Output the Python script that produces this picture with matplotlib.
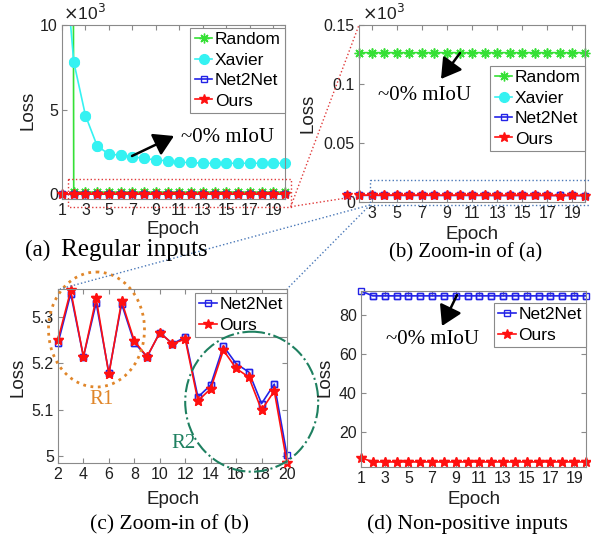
import matplotlib
matplotlib.use('Agg')
import matplotlib.pyplot as plt
from matplotlib.transforms import Affine2D
from matplotlib.patches import Ellipse, Rectangle, FancyArrowPatch
from matplotlib.lines import Line2D
from matplotlib.ticker import FuncFormatter
import numpy as np

plt.rcParams['font.family'] = ['Liberation Sans', 'DejaVu Sans']

# ---------------- data ----------------
epochs = [1, 2, 3, 4, 5, 6, 7, 8, 9, 10, 11, 12, 13, 14, 15, 16, 17, 18, 19, 20]
random_loss = [400000, 126.5, 126.5, 126.5, 126.5, 126.5, 126.5, 126.5, 126.5, 126.5,
               126.5, 126.5, 126.5, 126.5, 126.5, 126.5, 126.5, 126.5, 126.5, 126.5]
xavier_loss = [16000, 7830, 4650, 2850, 2370, 2310, 2210, 2120, 2020, 1980,
               1880, 1880, 1830, 1830, 1830, 1830, 1830, 1830, 1830, 1830]
net2net_loss = [5.60, 5.243, 5.350, 5.214, 5.330, 5.179, 5.328, 5.244, 5.214, 5.266,
                5.242, 5.256, 5.127, 5.153, 5.237, 5.199, 5.181, 5.113, 5.155, 5.002]
ours_loss = [5.60, 5.251, 5.357, 5.214, 5.340, 5.176, 5.334, 5.248, 5.214, 5.266,
             5.242, 5.252, 5.119, 5.145, 5.228, 5.189, 5.170, 5.099, 5.140, 4.985]
net2net_nonpos = [92.3, 89.8, 89.8, 89.8, 89.8, 89.8, 89.8, 89.8, 89.8, 89.8,
                  89.8, 89.8, 89.8, 89.8, 89.8, 89.8, 89.8, 89.8, 89.8, 89.8]
ours_nonpos = [6.8, 4.6, 4.6, 4.6, 4.6, 4.6, 4.6, 4.6, 4.6, 4.6,
               4.6, 4.6, 4.6, 4.6, 4.6, 4.6, 4.6, 4.6, 4.6, 4.6]

ticks_a = [1, 3, 5, 7, 9, 11, 13, 15, 17, 19]
ticks_b = [3, 5, 7, 9, 11, 13, 15, 17, 19]
ticks_c = [2, 4, 6, 8, 10, 12, 14, 16, 18, 20]
yt_a = [0, 5, 10]
yt_b = [0, 0.05, 0.1, 0.15]
yt_c = [5, 5.1, 5.2, 5.3]
yt_d = [20, 40, 60, 80]

C_RAND = '#35e035'
C_XAV = '#35f2f2'
C_N2N = '#2323e6'
C_OURS = '#ff1010'
SPINE = '#8a8a8a'

W, H = 591, 539
fig = plt.figure(figsize=(W / 100, H / 100), dpi=100)
T = Affine2D().scale(1 / W, -1 / H).translate(0, 1) + fig.transFigure


def ax_at(l, t, r, b):
    return fig.add_axes([l / W, 1 - b / H, (r - l) / W, (b - t) / H])


styles = {
    'Random': dict(color=C_RAND, marker=(8, 2, 0), ms=7, mew=1.0, mec=C_RAND, mfc=C_RAND),
    'Xavier': dict(color=C_XAV, marker='o', ms=7, mec=C_XAV, mfc=C_XAV),
    'Net2Net': dict(color=C_N2N, marker='s', ms=5, mew=1.0, mec=C_N2N, mfc='none'),
    'Ours': dict(color=C_OURS, marker='*', ms=7.5, mec=C_OURS, mfc=C_OURS),
}


def series(ax, x, y, name, ylim):
    st = styles[name]
    h, = ax.plot(x, y, lw=1.2, label=name, clip_on=True, **st)
    y = np.asarray(y, dtype=float)
    ym = np.where((y >= ylim[0] - 1e-9) & (y <= ylim[1] + 1e-9), y, np.nan)
    ax.plot(x, ym, ls='none', clip_on=False, **st)
    return h


def style_axes(ax):
    for s in ax.spines.values():
        s.set_color(SPINE)
        s.set_linewidth(0.8)
    ax.tick_params(direction='in', length=3.5, width=0.8, color=SPINE, labelcolor='#202020',
                   labelsize=11.5, top=True, right=True, pad=3)
    ax.yaxis.set_major_formatter(FuncFormatter(lambda v, p: '%g' % round(v, 4)))


def legend(ax, handles, x, y, fs=12.5):
    lg = ax.legend(handles=handles, loc='upper right', bbox_to_anchor=(x / W, 1 - y / H),
                   bbox_transform=fig.transFigure, borderaxespad=0, fontsize=fs,
                   handlelength=1.0, handletextpad=0.15, labelspacing=0.3, borderpad=0.25,
                   fancybox=False, framealpha=1, edgecolor=SPINE)
    lg.get_frame().set_linewidth(0.8)


def ftext(x, y, s, **kw):
    fig.text(x / W, 1 - y / H, s, **kw)


serif = ['Liberation Serif', 'DejaVu Serif']

# ---------------- (a) ----------------
ax = ax_at(62, 25, 285, 199)
yl = (-0.28, 10)
ha = [series(ax, epochs, np.array(random_loss) / 1000, 'Random', yl),
      series(ax, epochs, np.array(xavier_loss) / 1000, 'Xavier', yl),
      series(ax, epochs, np.array(net2net_loss) / 1000, 'Net2Net', yl),
      series(ax, epochs, np.array(ours_loss) / 1000, 'Ours', yl)]
ax.set_xlim(1, 20)
ax.set_ylim(*yl)
ax.set_xticks(ticks_a)
ax.set_yticks(yt_a)
style_axes(ax)
legend(ax, ha, 285, 28)

# ---------------- (b) ----------------
ax = ax_at(359, 25, 585, 201.5)
yl = (0, 0.15)
hb = [series(ax, epochs, np.array(random_loss) / 1000, 'Random', yl),
      series(ax, epochs, np.array(xavier_loss) / 1000, 'Xavier', yl),
      series(ax, epochs, np.array(net2net_loss) / 1000, 'Net2Net', yl),
      series(ax, epochs, np.array(ours_loss) / 1000, 'Ours', yl)]
ax.set_xlim(1.99, 20)
ax.set_ylim(*yl)
ax.set_xticks(ticks_b)
ax.set_yticks(yt_b)
style_axes(ax)
legend(ax, hb, 585, 66)

# ---------------- (c) ----------------
ax = ax_at(58, 289, 287, 463)
yl = (4.985, 5.36)
hc = [series(ax, epochs[1:], net2net_loss[1:], 'Net2Net', yl),
      series(ax, epochs[1:], ours_loss[1:], 'Ours', yl)]
ax.set_xlim(2, 20)
ax.set_ylim(*yl)
ax.set_xticks(ticks_c)
ax.set_yticks(yt_c)
style_axes(ax)
legend(ax, hc, 287, 293)

# ---------------- (d) ----------------
ax = ax_at(361, 291, 586, 467)
yl = (2.0, 92.3)
hd = [series(ax, epochs, net2net_nonpos, 'Net2Net', yl),
      series(ax, epochs, ours_nonpos, 'Ours', yl)]
ax.set_xlim(1, 20)
ax.set_ylim(*yl)
ax.set_xticks(ticks_a)
ax.set_yticks(yt_d)
style_axes(ax)
legend(ax, hd, 586, 303)

# ---------------- labels ----------------
lab = dict(fontsize=13.5, color='#202020', ha='center', va='center')
for (x, y) in [(173, 229), (472, 235), (173, 499), (474, 499)]:
    ftext(x, y, 'Epoch', **lab)
for (x, y) in [(28, 110), (308, 113), (18, 377), (325, 377)]:
    ftext(x, y, 'Loss', rotation=90, **lab)

ftext(63, 13, r'$\times$10$^3$', fontsize=12.5, color='#202020', ha='left', va='center')
ftext(362, 13, r'$\times$10$^3$', fontsize=12.5, color='#202020', ha='left', va='center')

cap = dict(family=serif, color='black', va='center')
ftext(38, 250, '(a)', fontsize=16.5, ha='center', **cap)
ftext(61, 250, 'Regular inputs', fontsize=18, ha='left', **cap)
ftext(466, 253, '(b) Zoom-in of (a)', fontsize=15, ha='center', **cap)
ftext(170, 525, '(c) Zoom-in of (b)', fontsize=15.5, ha='center', **cap)
ftext(467, 524, '(d) Non-positive inputs', fontsize=15.5, ha='center', **cap)

# ---------------- annotations ----------------
note = dict(fontsize=15, family=serif, color='black', ha='center', va='center')
ftext(228, 137, '~0% mIoU', **note)
ftext(425, 95, '~0% mIoU', **note)
ftext(433, 340, '~0% mIoU', **note)

arrow = dict(arrowstyle='-|>,head_length=0.5,head_width=0.3', lw=1.8, color='black',
             mutation_scale=24, shrinkA=0, shrinkB=0)
for (x0, y0, x1, y1) in [(132, 156, 174, 136), (460, 53, 441, 79), (457, 295, 442, 326)]:
    fig.add_artist(FancyArrowPatch((x0, y0), (x1, y1), transform=T, **arrow))

# zoom boxes and connectors
red = '#e03a3a'
blue = '#4a78b8'
fig.add_artist(Rectangle((68, 179), 222.7, 27.7, transform=T, fill=False, ec=red, ls=':', lw=1.0))
fig.add_artist(Line2D([290.7, 359], [206.7, 25], transform=T, color=red, ls=':', lw=1.0))
fig.add_artist(Line2D([290.7, 359], [206.7, 196], transform=T, color=red, ls=':', lw=1.0))
fig.add_artist(Rectangle((370, 180), 240, 25, transform=T, fill=False, ec=blue, ls=':', lw=1.0))
fig.add_artist(Line2D([370, 60], [205, 289], transform=T, color=blue, ls=':', lw=1.0))
fig.add_artist(Line2D([370, 287], [205, 289], transform=T, color=blue, ls=':', lw=1.0))

# R1 / R2 ellipses
fig.add_artist(Ellipse((96.5, 329.5), 96, 115, transform=T, fill=False, ec='#e0862a', ls=':', lw=2.0))
fig.add_artist(Ellipse((251.7, 401.7), 133, 140, transform=T, fill=False, ec='#1e8060', ls='-.', lw=1.5))
ftext(102, 399, 'R1', fontsize=15, family=serif, color='#e0862a', ha='center', va='center')
ftext(184, 443, 'R2', fontsize=15, family=serif, color='#1e8060', ha='center', va='center')

fig.savefig('out.png', dpi=100)
